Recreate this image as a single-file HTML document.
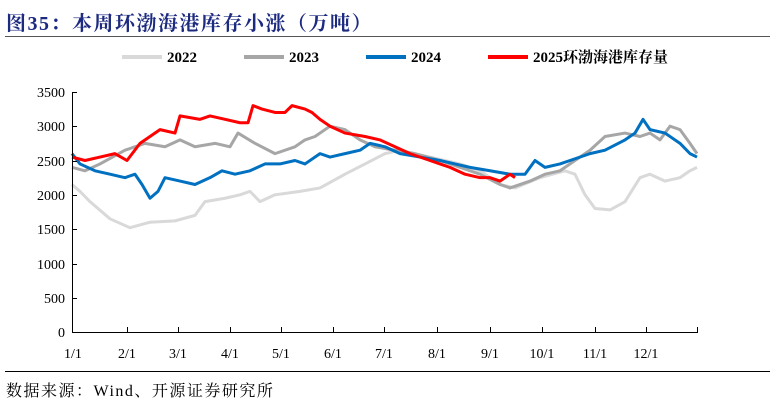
<!DOCTYPE html>
<html><head><meta charset="utf-8"><style>
body{margin:0;background:#fff;width:774px;height:405px;overflow:hidden;position:relative;font-family:"Liberation Serif","Noto Serif CJK SC",serif}
.t{position:absolute;left:6px;top:7px;font-size:20px;font-weight:bold;color:#1c2a80;letter-spacing:1.5px}
.src{position:absolute;left:6px;top:378px;font-size:16px;color:#000;letter-spacing:1.5px}
</style></head><body>
<div class="t">图35：本周环渤海港库存小涨（万吨）</div>
<svg width="774" height="405" style="position:absolute;left:0;top:0">
<line x1="5" y1="36.5" x2="770" y2="36.5" stroke="#555" stroke-width="1"/>
<line x1="5" y1="371.5" x2="770" y2="371.5" stroke="#000" stroke-width="1"/>
<g font-family="Liberation Serif" font-size="15" font-weight="bold">
<line x1="122" y1="57" x2="162" y2="57" stroke="#d9d9d9" stroke-width="4"/><text x="167" y="62">2022</text>
<line x1="244" y1="57" x2="284" y2="57" stroke="#a6a6a6" stroke-width="4"/><text x="289" y="62">2023</text>
<line x1="366" y1="57" x2="406" y2="57" stroke="#0070c0" stroke-width="4"/><text x="411" y="62">2024</text>
<line x1="488" y1="57" x2="528" y2="57" stroke="#ff0000" stroke-width="4"/><text x="533" y="62" font-family="Liberation Serif, Noto Serif CJK SC, serif">2025环渤海港库存量</text>
</g>
<g transform="translate(0,332) scale(1,-0.0686)" fill="none" stroke-linejoin="round">
<polyline vector-effect="non-scaling-stroke" stroke="#d9d9d9" stroke-width="3" points="72,2150 80,2050 90,1900 110,1650 130,1520 150,1600 175,1620 195,1700 205,1900 225,1950 240,2000 250,2050 260,1900 275,2000 300,2050 320,2100 345,2300 365,2450 385,2600 400,2650 430,2550 460,2450 480,2350 500,2150 515,2100 540,2250 565,2350 575,2300 585,2000 595,1800 610,1780 625,1900 640,2250 650,2300 665,2200 680,2250 690,2350 697,2400"/>
<polyline vector-effect="non-scaling-stroke" stroke="#a6a6a6" stroke-width="3" points="72,2400 85,2350 100,2450 125,2650 145,2750 165,2700 180,2800 195,2700 215,2750 230,2700 238,2900 255,2750 275,2600 295,2700 305,2800 315,2850 330,3000 345,2950 360,2800 375,2700 395,2650 415,2600 440,2500 460,2400 480,2300 500,2150 510,2100 530,2200 545,2300 560,2350 575,2500 590,2650 605,2850 625,2900 640,2850 650,2900 660,2800 670,3000 680,2950 690,2750 697,2600"/>
<polyline vector-effect="non-scaling-stroke" stroke="#0070c0" stroke-width="3" points="72,2600 80,2450 95,2350 110,2300 125,2250 135,2300 142,2150 150,1950 158,2050 165,2250 180,2200 195,2150 210,2250 222,2350 235,2300 250,2350 265,2450 280,2450 295,2500 305,2450 320,2600 330,2550 345,2600 360,2650 370,2750 385,2700 400,2600 420,2550 440,2500 455,2450 470,2400 490,2350 510,2300 525,2300 535,2500 545,2400 560,2450 570,2500 590,2600 605,2650 625,2800 635,2900 643,3100 650,2950 665,2900 680,2750 690,2600 697,2550"/>
<polyline vector-effect="non-scaling-stroke" stroke="#ff0000" stroke-width="3" points="72,2550 85,2500 100,2550 115,2600 127,2500 140,2750 160,2950 175,2900 180,3150 200,3100 210,3150 225,3100 240,3050 248,3050 253,3300 262,3250 275,3200 285,3200 292,3300 305,3250 312,3200 320,3100 330,3000 345,2900 365,2850 380,2800 395,2700 410,2600 430,2500 440,2450 450,2400 465,2300 480,2250 490,2250 500,2200 510,2300 515,2250"/>
</g>
<g stroke="#000" stroke-width="1">
<line x1="72.5" y1="92" x2="72.5" y2="332"/>
<line x1="72" y1="332.5" x2="698" y2="332.5"/>
<line x1="72" y1="92.5" x2="77" y2="92.5"/><line x1="72" y1="126.5" x2="77" y2="126.5"/><line x1="72" y1="161.5" x2="77" y2="161.5"/><line x1="72" y1="195.5" x2="77" y2="195.5"/><line x1="72" y1="229.5" x2="77" y2="229.5"/><line x1="72" y1="264.5" x2="77" y2="264.5"/><line x1="72" y1="298.5" x2="77" y2="298.5"/>
<line x1="127.5" y1="327" x2="127.5" y2="332"/><line x1="178.5" y1="327" x2="178.5" y2="332"/><line x1="230.5" y1="327" x2="230.5" y2="332"/><line x1="281.5" y1="327" x2="281.5" y2="332"/><line x1="333.5" y1="327" x2="333.5" y2="332"/><line x1="384.5" y1="327" x2="384.5" y2="332"/><line x1="437.5" y1="327" x2="437.5" y2="332"/><line x1="490.5" y1="327" x2="490.5" y2="332"/><line x1="542.5" y1="327" x2="542.5" y2="332"/><line x1="595.5" y1="327" x2="595.5" y2="332"/><line x1="646.5" y1="327" x2="646.5" y2="332"/><line x1="697.5" y1="327" x2="697.5" y2="332"/>
</g>
<g font-family="Liberation Serif" font-size="14" text-anchor="end" fill="#000">
<text x="65" y="97">3500</text><text x="65" y="131">3000</text><text x="65" y="166">2500</text><text x="65" y="200">2000</text><text x="65" y="234">1500</text><text x="65" y="269">1000</text><text x="65" y="303">500</text><text x="65" y="337">0</text>
</g>
<g font-family="Liberation Serif" font-size="14" text-anchor="middle" fill="#000">
<text x="73" y="358">1/1</text><text x="127" y="358">2/1</text><text x="178" y="358">3/1</text><text x="230" y="358">4/1</text><text x="281" y="358">5/1</text><text x="333" y="358">6/1</text><text x="384" y="358">7/1</text><text x="437" y="358">8/1</text><text x="490" y="358">9/1</text><text x="542" y="358">10/1</text><text x="595" y="358">11/1</text><text x="646" y="358">12/1</text>
</g>
</svg>
<div class="src">数据来源：Wind、开源证券研究所</div>
</body></html>
